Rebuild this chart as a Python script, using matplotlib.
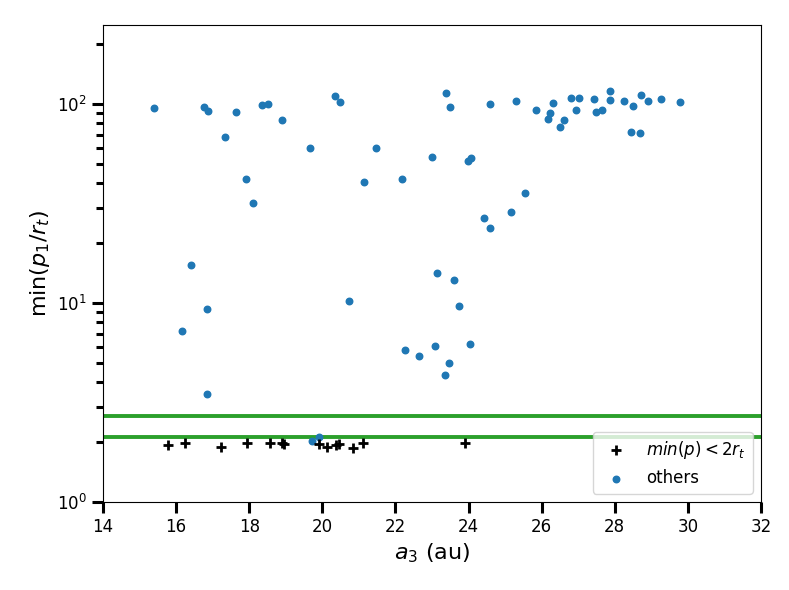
import matplotlib
matplotlib.use("Agg")
import matplotlib.pyplot as plt
import numpy as np

# "others" points (a3 in au, min(p1/rt))
others_x = [15.40, 16.77, 16.86, 17.35, 17.64, 17.91, 18.11, 18.34, 18.50, 18.90,
            19.67, 20.36, 20.48, 21.14, 21.46, 22.18, 22.99,
            23.39, 23.50, 23.98, 24.08, 24.43, 24.59, 24.59, 25.17, 25.30, 25.55,
            25.84, 26.17, 26.23, 26.32, 26.50, 26.61, 26.79, 26.93, 27.01, 27.44,
            27.48, 27.65, 27.87, 27.87, 28.26, 28.45, 28.51, 28.70, 28.72, 28.92,
            29.27, 29.79,
            16.42, 16.84, 16.17, 16.84, 20.72, 22.26, 22.64, 23.07, 23.14, 23.60,
            23.35, 23.46, 23.75, 24.04, 19.72, 19.90]
others_y = [95.8, 96.9, 92.3, 68.1, 91.5, 42.0, 31.9, 98.5, 100.0, 82.8,
            60.2, 109.6, 102.6, 40.8, 60.5, 42.0, 54.2,
            113.5, 96.6, 51.8, 53.6, 26.7, 23.8, 100.4, 28.7, 104.3, 35.9,
            94.0, 84.7, 90.4, 101.4, 76.9, 83.7, 107.2, 93.6, 107.2, 105.7,
            91.2, 93.0, 116.2, 105.2, 104.3, 72.1, 97.7, 71.6, 111.4, 104.3,
            106.0, 102.3,
            15.5, 9.39, 7.26, 3.49, 10.3, 5.83, 5.45, 6.08, 14.1, 13.1,
            4.37, 5.01, 9.68, 6.24, 2.03, 2.12]

# close-encounter points, min(p) < 2 r_t
close_x = [15.77, 16.24, 17.23, 17.95, 18.56, 18.89, 18.96, 19.90, 20.14,
           20.37, 20.45, 20.83, 21.10, 23.90]
close_y = [1.93, 1.99, 1.89, 1.98, 1.98, 1.98, 1.95, 1.95, 1.89,
           1.94, 1.95, 1.87, 1.99, 1.98]

# horizontal reference levels
hlines = [2.71, 2.11]

xlim = (14, 32)
ylim = (1, 250)
xticks = [14, 16, 18, 20, 22, 24, 26, 28, 30, 32]

fig = plt.figure(figsize=(7.89, 5.90), dpi=100)
ax = fig.add_axes([103/789, 1 - 502/590, (761-103)/789, (502-25)/590])

for h in hlines:
    ax.axhline(h, color="#2ca02c", lw=2.8, zorder=1)

ax.scatter(close_x, close_y, marker="+", s=60, color="black", linewidths=2,
           label=r"$min(p) < 2r_t$", zorder=3)
ax.scatter(others_x, others_y, s=22, color="#1f77b4", label="others", zorder=2)

ax.set_yscale("log")
ax.set_xlim(*xlim)
ax.set_ylim(*ylim)
ax.set_xticks(xticks)

ax.tick_params(axis="both", which="major", width=2.2, length=8, labelsize=12)
ax.tick_params(axis="y", which="minor", width=2.2, length=5)

ax.set_xlabel(r"$a_3$ (au)", fontsize=16)
ax.set_ylabel(r"min($p_1/r_t$)", fontsize=16)

ax.legend(loc="lower right", fontsize=12, borderaxespad=0.5)

fig.savefig("out.png", dpi=100)
